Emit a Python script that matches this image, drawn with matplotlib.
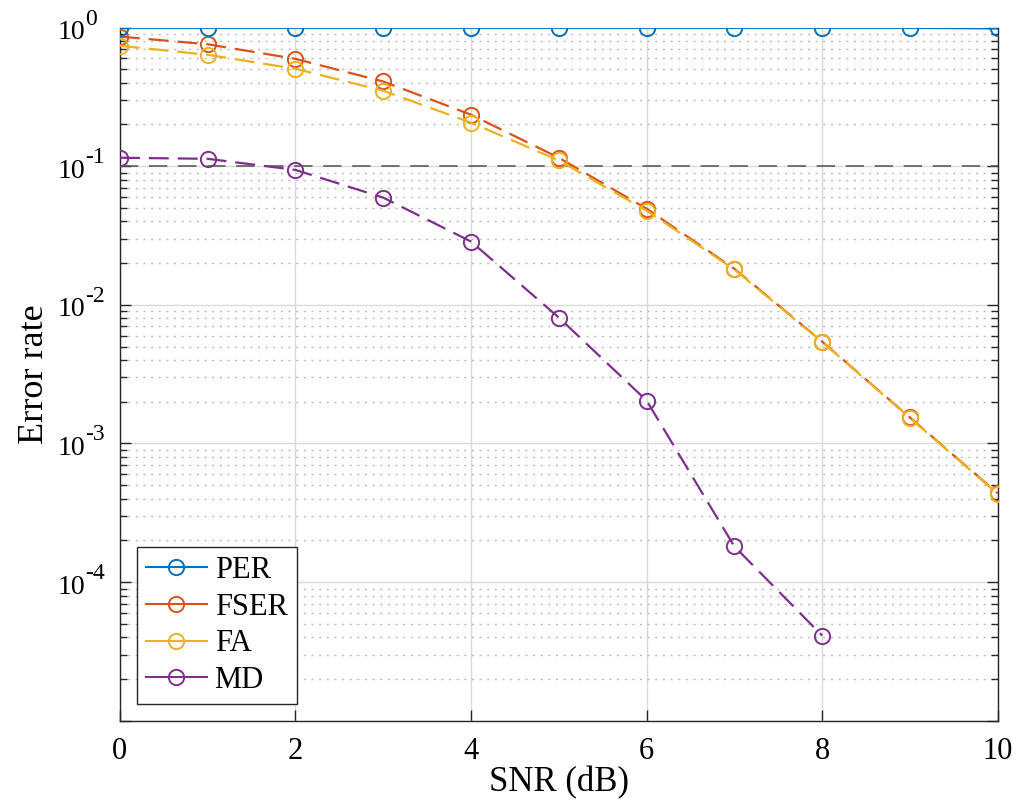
import matplotlib
matplotlib.use("Agg")
import matplotlib.pyplot as plt
from matplotlib.ticker import LogLocator, NullFormatter

# Data
snr = [0, 1, 2, 3, 4, 5, 6, 7, 8, 9, 10]
per = [1, 1, 1, 1, 1, 1, 1, 1, 1, 1, 0.99]
fser = [0.86, 0.757, 0.594, 0.408, 0.235, 0.115, 0.0494, 0.0182, 0.00543, 0.00154, 0.000437]
fa = [0.738, 0.636, 0.504, 0.35, 0.206, 0.11, 0.0478, 0.0180, 0.00540, 0.00153, 0.000433]
snr_md = [0, 1, 2, 3, 4, 5, 6, 7, 8]
md = [0.115, 0.113, 0.094, 0.0593, 0.0286, 0.0081, 0.00204, 0.000181, 4.12e-5]

# Y tick labels (base and exponent drawn separately, MATLAB style)
yLabelValues = [1, 1e-1, 1e-2, 1e-3, 1e-4]
yLabelExponents = ['0', '-1', '-2', '-3', '-4']

plt.rcParams['font.family'] = ['Liberation Serif', 'DejaVu Serif']

fig = plt.figure(figsize=(10.16, 8.09), dpi=100)
ax = fig.add_axes([0.118, 0.109, 0.864, 0.857])

axisColor = '#262626'
marker = dict(marker='o', markersize=11, markerfacecolor='none', markeredgewidth=1.4)
dash = (0, (9, 4))

# Reference line at 0.1
ax.axhline(0.1, color='#505050', linestyle=(0, (12, 7)), linewidth=1.1, zorder=2)

ax.plot(snr, per, color='#0072BD', linewidth=2, label='PER', zorder=5, **marker)
ax.plot(snr, fser, color='#D95319', linewidth=1.6, linestyle=dash, label='FSER', zorder=4, **marker)
ax.plot(snr, fa, color='#EDB120', linewidth=1.6, linestyle=dash, label='FA', zorder=4, **marker)
ax.plot(snr_md, md, color='#7E2F8E', linewidth=1.6, linestyle=dash, label='MD', zorder=4, **marker)

ax.set_yscale('log')
ax.set_xlim(0, 10)
ax.set_ylim(1e-5, 1)
ax.set_xticks([0, 2, 4, 6, 8, 10])
ax.yaxis.set_major_locator(LogLocator(base=10, numticks=10))
ax.yaxis.set_minor_locator(LogLocator(base=10, subs=range(2, 10), numticks=20))
ax.yaxis.set_major_formatter(NullFormatter())
ax.yaxis.set_minor_formatter(NullFormatter())

for val, exp in zip(yLabelValues, yLabelExponents):
    ax.annotate('10', xy=(0, val), xycoords=('axes fraction', 'data'),
                xytext=(-35, -5), textcoords='offset pixels',
                ha='right', va='center', fontsize=20, color='black')
    ax.annotate(exp, xy=(0, val), xycoords=('axes fraction', 'data'),
                xytext=(-35, 8.5), textcoords='offset pixels',
                ha='left', va='center', fontsize=17, color='black')

# Grid: solid major, dotted minor
ax.grid(True, which='major', color='#d9d9d9', linewidth=1, linestyle='-', zorder=0)
ax.yaxis.grid(True, which='minor', color='#bbbbbb', linewidth=1, linestyle=(0, (1.5, 4)))
ax.set_axisbelow(True)

ax.tick_params(which='both', direction='in', right=True, top=False, colors=axisColor, labelsize=22)
ax.tick_params(axis='x', labelcolor='black')
ax.tick_params(which='major', length=8, width=1)
ax.tick_params(which='minor', length=5, width=1)
ax.tick_params(axis='x', pad=12)
for spine in ['left', 'bottom', 'right']:
    ax.spines[spine].set_color(axisColor)
    ax.spines[spine].set_linewidth(1)
ax.spines['top'].set_visible(False)

ax.set_xlabel('SNR (dB)', fontsize=25, labelpad=0)
ax.set_ylabel('Error rate', fontsize=26)
ax.yaxis.set_label_coords(-0.078, 0.5)

legend = ax.legend(loc='lower left', fontsize=22, handlelength=2.0, handletextpad=0.25,
                   borderaxespad=0.55, borderpad=0.3, labelspacing=0.25, fancybox=False,
                   framealpha=1, edgecolor=axisColor)
legend.get_frame().set_linewidth(1)
for line in legend.get_lines():
    line.set_linestyle('-')
    line.set_linewidth(1.5)

plt.savefig('out.png', dpi=100)
